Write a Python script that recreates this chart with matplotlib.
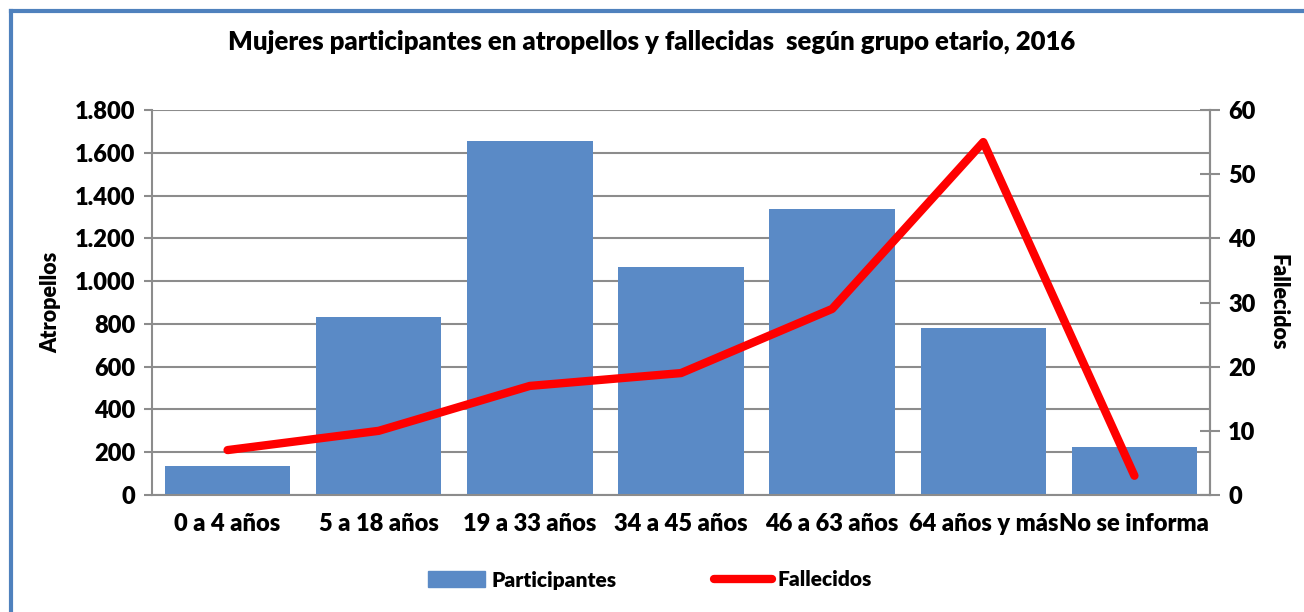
import matplotlib.pyplot as plt
from matplotlib.lines import Line2D
from matplotlib.patches import Patch

categories = ["0 a 4 años", "5 a 18 años", "19 a 33 años", "34 a 45 años",
              "46 a 63 años", "64 años y más", "No se informa"]
participantes = [135, 830, 1655, 1068, 1336, 779, 224]
fallecidos = [7, 10, 17, 19, 29, 55, 3]
left_ticks = [0, 200, 400, 600, 800, 1000, 1200, 1400, 1600, 1800]
left_labels = ["0", "200", "400", "600", "800", "1.000", "1.200", "1.400", "1.600", "1.800"]
right_ticks = [0, 10, 20, 30, 40, 50, 60]

plt.rcParams['font.family'] = ['Lato', 'DejaVu Sans']
FW = 'heavy'
plt.rcParams['font.weight'] = FW

W, H = 1304, 612
fig = plt.figure(figsize=(W/100, H/100), dpi=100)
ax = fig.add_axes([152/W, 1-495/H, (1210-152)/W, (495-110)/H])

bar_color = "#5A8AC6"
grid_color = "#8C8C8C"
x = list(range(len(categories)))
ax.bar(x, participantes, width=0.83, color=bar_color, zorder=2)
ax.set_ylim(0, 1800)
ax.set_xlim(-0.5, len(categories)-0.5)
ax.set_yticks(left_ticks)
ax.set_yticklabels(left_labels, fontsize=17, fontweight=FW)
ax.set_xticks(x)
ax.set_xticklabels(categories, fontsize=17, fontweight=FW)
ax.tick_params(axis='x', length=0, pad=13)
ax.tick_params(axis='y', length=6, width=1.5, color=grid_color, pad=6)
ax.yaxis.grid(True, color=grid_color, linewidth=1.5, zorder=0)
ax.set_axisbelow(True)
ax.spines['top'].set_visible(False)
for s in ['left', 'bottom', 'right']:
    ax.spines[s].set_color(grid_color)
    ax.spines[s].set_linewidth(1.5)
ax.set_ylabel("Atropellos", fontsize=15.5, fontweight=FW, labelpad=10)

ax2 = ax.twinx()
ax2.plot(x, fallecidos, color="#FF0000", linewidth=6, solid_capstyle='round',
         solid_joinstyle='round', zorder=3)
ax2.set_ylim(0, 60)
ax2.set_yticks(right_ticks)
ax2.set_yticklabels([str(t) for t in right_ticks], fontsize=17, fontweight=FW)
ax2.tick_params(axis='y', direction='inout', length=14, width=1.5, color=grid_color, pad=6)
for s in ['top', 'left', 'bottom']:
    ax2.spines[s].set_visible(False)
ax2.spines['right'].set_color(grid_color)
ax2.spines['right'].set_linewidth(1.5)
ax2.set_ylabel("Fallecidos", fontsize=15.5, fontweight=FW, rotation=270, labelpad=24)

fig.text(0.5, 1-42/H, "Mujeres participantes en atropellos y fallecidas  según grupo etario, 2016",
         ha='center', va='center', fontsize=18.5, fontweight=FW)

handles = [Patch(color=bar_color, label="Participantes"),
           Line2D([0], [0], color="#FF0000", linewidth=6, solid_capstyle='round', label="Fallecidos")]
fig.legend(handles=handles, loc='center', bbox_to_anchor=(650/W, 1-580/H), ncol=2,
           frameon=False, handlelength=2.75, handleheight=0.8,
           handletextpad=0.3, columnspacing=4.7, prop={'weight': FW, 'size': 15})

border_color = "#4F81BD"
fig.add_artist(Line2D([11/W, 11/W], [0, 1-11/H], color=border_color, linewidth=3))
fig.add_artist(Line2D([11/W, 1], [1-11/H, 1-11/H], color=border_color, linewidth=3))

fig.savefig("out.png", dpi=100)
